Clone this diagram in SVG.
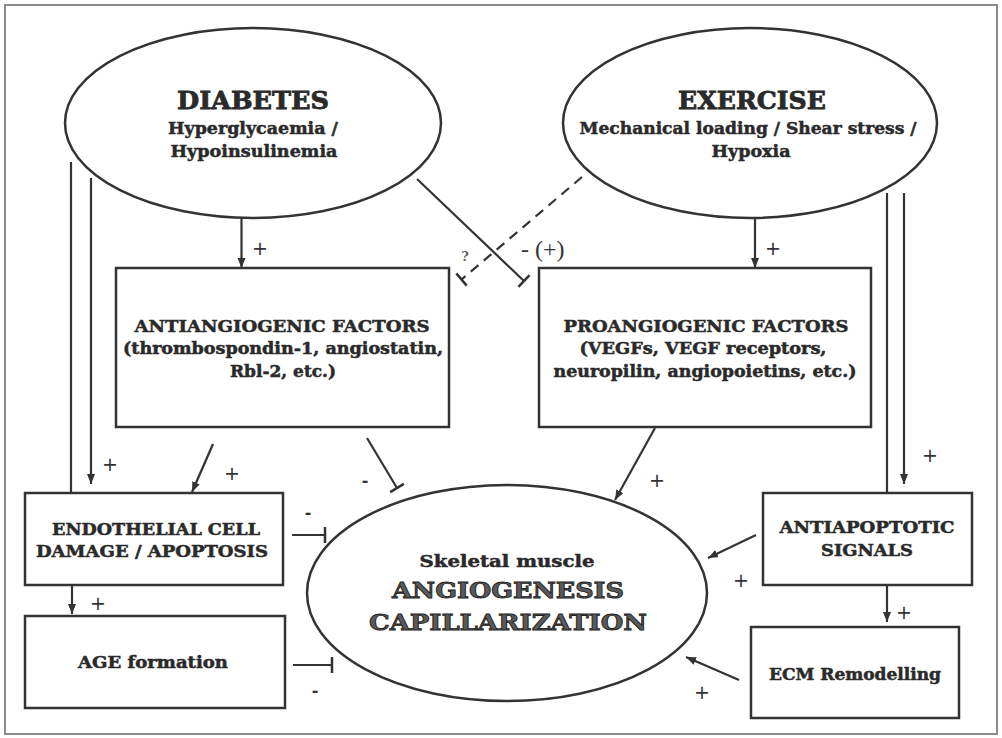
<svg xmlns="http://www.w3.org/2000/svg" width="1002" height="738" viewBox="0 0 1002 738">
<style>
.shape{fill:#fff;stroke:#333;stroke-width:2.5}
.t{font-family:"DejaVu Serif","Liberation Serif",serif;font-weight:bold;fill:#2a2a2a;stroke:#2a2a2a;stroke-width:0.5;text-anchor:middle}
.big{font-size:25px;stroke-width:0.8}
.sub{font-size:17px}
.box{font-size:16px}
.hero{font-size:23px;fill:#5a5a5a;stroke:#222;stroke-width:0.9}
.c{fill:none;stroke:#333;stroke-width:2.2}
.sign{font-family:"DejaVu Sans",sans-serif;font-size:19px;fill:#333;text-anchor:middle}
.minus{font-family:"DejaVu Sans",sans-serif;font-weight:bold;font-size:16px;fill:#333;text-anchor:middle}
</style>
<defs>
<marker id="arr" markerUnits="userSpaceOnUse" markerWidth="12" markerHeight="10" refX="10" refY="4" orient="auto"><path d="M0,0 L10,4 L0,8 z" fill="#333"/></marker>
<marker id="tee" markerUnits="userSpaceOnUse" markerWidth="4" markerHeight="20" refX="2" refY="10" orient="auto"><path d="M2,2 L2,18" stroke="#333" stroke-width="2.5"/></marker>
</defs>
<rect x="0" y="0" width="1002" height="738" fill="#fff"/>
<rect x="5" y="5" width="992" height="729" fill="#fff" stroke="#8a8a8a" stroke-width="2"/>

<g id="connectors">
<line class="c" x1="241.5" y1="218" x2="241.5" y2="268" marker-end="url(#arr)"/>
<line class="c" x1="755" y1="218" x2="755" y2="268" marker-end="url(#arr)"/>
<line class="c" x1="71" y1="162" x2="71" y2="493"/>
<line class="c" x1="91" y1="178" x2="91" y2="484" marker-end="url(#arr)"/>
<line class="c" x1="887" y1="193" x2="887" y2="493"/>
<line class="c" x1="904" y1="193" x2="904" y2="484" marker-end="url(#arr)"/>
<line class="c" x1="72" y1="586" x2="72" y2="614" marker-end="url(#arr)"/>
<line class="c" x1="213" y1="444" x2="192" y2="492" marker-end="url(#arr)"/>
<line class="c" x1="367" y1="438" x2="397" y2="488" marker-end="url(#tee)"/>
<line class="c" x1="655" y1="428" x2="615" y2="500" marker-end="url(#arr)"/>
<line class="c" x1="292" y1="535" x2="325" y2="535" marker-end="url(#tee)"/>
<line class="c" x1="293" y1="665" x2="332" y2="665" marker-end="url(#tee)"/>
<line class="c" x1="756" y1="535" x2="708" y2="558" marker-end="url(#arr)"/>
<line class="c" x1="887" y1="585" x2="887" y2="622" marker-end="url(#arr)"/>
<line class="c" x1="739" y1="680" x2="686" y2="657" marker-end="url(#arr)"/>
<line class="c" x1="417" y1="179" x2="524" y2="281" marker-end="url(#tee)"/>
<line class="c" x1="582" y1="177" x2="461.5" y2="279.5" stroke-dasharray="10 7" marker-end="url(#tee)"/>
<text class="sign" x="260" y="255">+</text>
<text class="sign" x="773" y="255">+</text>
<text class="sign" x="110" y="471">+</text>
<text class="sign" x="930" y="462">+</text>
<text class="sign" x="232" y="480">+</text>
<text class="sign" x="657" y="487">+</text>
<text class="sign" x="741" y="587">+</text>
<text class="sign" x="904" y="619">+</text>
<text class="sign" x="702" y="699">+</text>
<text class="sign" x="98" y="610">+</text>
<text class="minus" x="365" y="486">-</text>
<text class="minus" x="308" y="518">-</text>
<text class="minus" x="315" y="696">-</text>
<text x="521" y="257" font-family="Liberation Serif, serif" font-size="24" fill="#333">- (+)</text>
<text x="465" y="261" font-family="DejaVu Serif, serif" font-weight="bold" font-size="13" fill="#666" text-anchor="middle">?</text>
</g>

<g id="diabetes">
<ellipse class="shape" cx="253" cy="123" rx="188" ry="95"/>
<text class="t big" x="253" y="109" textLength="152" lengthAdjust="spacingAndGlyphs">DIABETES</text>
<text class="t sub" x="253" y="134" textLength="170" lengthAdjust="spacingAndGlyphs">Hyperglycaemia /</text>
<text class="t sub" x="254" y="157" textLength="167" lengthAdjust="spacingAndGlyphs">Hypoinsulinemia</text>
</g>

<g id="exercise">
<ellipse class="shape" cx="750" cy="123" rx="187" ry="95"/>
<text class="t big" x="752" y="109" textLength="148" lengthAdjust="spacingAndGlyphs">EXERCISE</text>
<text class="t sub" x="748" y="134" textLength="337" lengthAdjust="spacingAndGlyphs">Mechanical loading / Shear stress /</text>
<text class="t sub" x="751" y="157" textLength="79" lengthAdjust="spacingAndGlyphs">Hypoxia</text>
</g>

<g id="antiangiogenic">
<rect class="shape" x="116" y="268" width="333" height="159"/>
<text class="t box" x="282" y="332" textLength="295" lengthAdjust="spacingAndGlyphs">ANTIANGIOGENIC FACTORS</text>
<text class="t box" x="283" y="354" textLength="320" lengthAdjust="spacingAndGlyphs">(thrombospondin-1, angiostatin,</text>
<text class="t box" x="283" y="377" textLength="106" lengthAdjust="spacingAndGlyphs">Rbl-2, etc.)</text>
</g>

<g id="proangiogenic">
<rect class="shape" x="539" y="268" width="332" height="159"/>
<text class="t box" x="706" y="332" textLength="285" lengthAdjust="spacingAndGlyphs">PROANGIOGENIC FACTORS</text>
<text class="t box" x="703" y="354" textLength="247" lengthAdjust="spacingAndGlyphs">(VEGFs, VEGF receptors,</text>
<text class="t box" x="705" y="377" textLength="303" lengthAdjust="spacingAndGlyphs">neuropilin, angiopoietins, etc.)</text>
</g>

<g id="endothelial">
<rect class="shape" x="25" y="493" width="258" height="92"/>
<text class="t box" x="156" y="535" textLength="208" lengthAdjust="spacingAndGlyphs">ENDOTHELIAL CELL</text>
<text class="t box" x="152" y="557" textLength="232" lengthAdjust="spacingAndGlyphs">DAMAGE / APOPTOSIS</text>
</g>

<g id="age">
<rect class="shape" x="25" y="616" width="260" height="92"/>
<text class="t box" x="153" y="668" textLength="150" lengthAdjust="spacingAndGlyphs">AGE formation</text>
</g>

<g id="antiapoptotic">
<rect class="shape" x="763" y="493" width="209" height="92"/>
<text class="t box" x="867" y="533" textLength="175" lengthAdjust="spacingAndGlyphs">ANTIAPOPTOTIC</text>
<text class="t box" x="867" y="556" textLength="92" lengthAdjust="spacingAndGlyphs">SIGNALS</text>
</g>

<g id="ecm">
<rect class="shape" x="751" y="627" width="208" height="91"/>
<text class="t box" x="855" y="680" textLength="172" lengthAdjust="spacingAndGlyphs">ECM Remodelling</text>
</g>

<g id="angiogenesis">
<ellipse class="shape" cx="507" cy="593" rx="200" ry="108"/>
<text class="t" font-size="17" x="507" y="567" textLength="175" lengthAdjust="spacingAndGlyphs">Skeletal muscle</text>
<text class="t hero" x="508" y="598" textLength="232" lengthAdjust="spacingAndGlyphs">ANGIOGENESIS</text>
<text class="t hero" x="508" y="630" textLength="278" lengthAdjust="spacingAndGlyphs">CAPILLARIZATION</text>
</g>
</svg>
